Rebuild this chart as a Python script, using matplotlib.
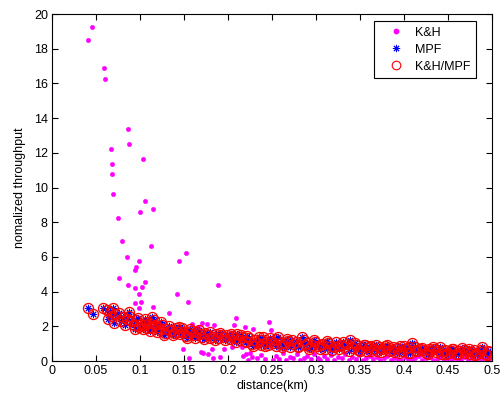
import matplotlib
matplotlib.use("Agg")
import matplotlib.pyplot as plt
from matplotlib.lines import Line2D

plt.rcParams['font.family'] = ['Liberation Sans', 'DejaVu Sans']

# K&H (magenta dots)
kh_x = [0.0413, 0.0458, 0.0587, 0.0599, 0.0864, 0.0875, 0.0667, 0.1038, 0.0678, 0.0678,
        0.0690, 0.1057, 0.1152, 0.1000, 0.0746, 0.0792, 0.1125, 0.1520, 0.0852, 0.1440,
        0.0989, 0.0955, 0.0943, 0.0761, 0.1060, 0.0864, 0.1023, 0.0943, 0.0989, 0.1417,
        0.1890, 0.1540, 0.1330, 0.1008, 0.1150, 0.0989, 0.0943, 0.2090, 0.2070, 0.2280,
        0.2470, 0.2490, 0.2190, 0.1590, 0.1700, 0.1760, 0.1840, 0.1660, 0.1200, 0.1400,
        0.149, 0.156, 0.169, 0.172, 0.177, 0.182, 0.183, 0.191, 0.196, 0.204,
        0.216, 0.217, 0.221, 0.223, 0.225, 0.227, 0.233, 0.238, 0.242, 0.251,
        0.255, 0.258, 0.262, 0.266, 0.270, 0.274, 0.278, 0.282, 0.286, 0.290,
        0.294, 0.298, 0.302, 0.305, 0.309, 0.313, 0.317, 0.321, 0.325, 0.329,
        0.333, 0.337, 0.341, 0.345, 0.349, 0.353, 0.357, 0.361, 0.365, 0.369,
        0.373, 0.377, 0.381, 0.385, 0.389, 0.393, 0.397, 0.401, 0.405, 0.409,
        0.413, 0.417, 0.421, 0.425, 0.429, 0.433, 0.437, 0.441, 0.445, 0.449,
        0.453, 0.457, 0.461, 0.465, 0.469, 0.473, 0.477, 0.481, 0.485, 0.489,
        0.493, 0.497]
kh_y = [18.52, 19.23, 16.89, 16.23, 13.37, 12.50, 12.20, 11.62, 11.34, 10.80,
        9.64, 9.22, 8.76, 8.59, 8.24, 6.90, 6.65, 6.24, 6.01, 5.78,
        5.78, 5.44, 5.26, 4.78, 4.55, 4.38, 4.27, 4.21, 3.84, 3.86,
        4.38, 3.38, 2.74, 3.38, 3.09, 3.04, 3.32, 2.46, 2.07, 1.86,
        2.27, 1.79, 1.98, 2.15, 2.21, 2.11, 2.05, 1.98, 1.90, 1.70,
        0.67, 0.17, 0.52, 0.44, 0.40, 0.67, 0.15, 0.25, 0.67, 0.79,
        0.79, 0.29, 0.40, 0.05, 0.44, 0.21, 0.15, 0.35, 0.10, 0.05,
        0.30, 0.12, 0.45, 0.08, 0.25, 0.15, 0.38, 0.05, 0.20, 0.30,
        0.10, 0.42, 0.18, 0.06, 0.28, 0.12, 0.35, 0.05, 0.22, 0.15,
        0.40, 0.08, 0.25, 0.12, 0.32, 0.05, 0.18, 0.28, 0.10, 0.22,
        0.05, 0.15, 0.30, 0.08, 0.20, 0.12, 0.04, 0.25, 0.10, 0.06,
        0.18, 0.30, 0.05, 0.15, 0.22, 0.08, 0.12, 0.26, 0.05, 0.18,
        0.10, 0.20, 0.06, 0.14, 0.25, 0.08, 0.16, 0.05, 0.20, 0.10,
        0.15, 0.06]

# MPF (blue asterisks) and K&H/MPF (red circles) share positions
mpf_x = [0.041, 0.047, 0.058, 0.062, 0.066, 0.069, 0.068, 0.072, 0.076, 0.078,
         0.081, 0.085, 0.088, 0.090, 0.093, 0.096, 0.099, 0.101, 0.104, 0.106,
         0.108, 0.110, 0.112, 0.114, 0.117, 0.120, 0.123, 0.125, 0.128, 0.131,
         0.134, 0.136, 0.139, 0.141, 0.144, 0.146, 0.149, 0.152, 0.155, 0.158,
         0.161, 0.164, 0.168, 0.171, 0.174, 0.177, 0.180, 0.183, 0.186, 0.189,
         0.192, 0.195, 0.199, 0.202, 0.205, 0.208, 0.210, 0.213, 0.216, 0.219,
         0.221, 0.224, 0.227, 0.230, 0.233, 0.236, 0.238, 0.240, 0.243, 0.246,
         0.249, 0.252, 0.255, 0.257, 0.260, 0.263, 0.265, 0.268, 0.271, 0.274,
         0.277, 0.280, 0.284, 0.287, 0.290, 0.293, 0.296, 0.299, 0.302, 0.304,
         0.307, 0.310, 0.314, 0.317, 0.320, 0.323, 0.326, 0.329, 0.332, 0.335,
         0.339, 0.342, 0.345, 0.348, 0.351, 0.354, 0.357, 0.360, 0.363, 0.366,
         0.369, 0.372, 0.375, 0.378, 0.380, 0.383, 0.386, 0.389, 0.392, 0.395,
         0.398, 0.401, 0.404, 0.406, 0.409, 0.412, 0.415, 0.418, 0.422, 0.425,
         0.428, 0.430, 0.433, 0.436, 0.439, 0.442, 0.445, 0.447, 0.450, 0.453,
         0.456, 0.459, 0.462, 0.466, 0.469, 0.472, 0.475, 0.477, 0.480, 0.483,
         0.486, 0.489, 0.492, 0.495, 0.498,
         0.064, 0.071, 0.083, 0.087, 0.094, 0.098, 0.103, 0.107, 0.111, 0.116,
         0.119, 0.124, 0.127, 0.133, 0.138, 0.143, 0.148, 0.153, 0.157, 0.163,
         0.167, 0.173, 0.179, 0.185, 0.191, 0.197, 0.203, 0.209, 0.215, 0.222,
         0.228, 0.235, 0.242, 0.248, 0.254, 0.261, 0.267, 0.273, 0.279, 0.286,
         0.292, 0.298, 0.305, 0.312, 0.318, 0.325, 0.331, 0.337, 0.344, 0.350,
         0.356, 0.362, 0.368, 0.374, 0.381, 0.387, 0.394, 0.400, 0.407, 0.413,
         0.420, 0.427, 0.434, 0.441, 0.448, 0.455, 0.461, 0.468, 0.474, 0.481,
         0.487, 0.494]
mpf_y = [3.07, 2.69, 3.04, 2.95, 2.85, 3.07, 2.59, 2.72, 2.74, 2.31,
         2.55, 2.45, 2.84, 2.30, 2.10, 2.36, 1.98, 2.15, 2.05, 2.40,
         1.92, 2.20, 1.88, 2.52, 2.07, 1.95, 1.80, 2.10, 1.63, 1.85,
         1.72, 1.79, 1.62, 1.90, 1.98, 1.55, 1.70, 1.45, 1.59, 1.75,
         1.50, 1.66, 1.56, 1.40, 1.62, 1.48, 1.35, 1.40, 1.55, 1.30,
         1.48, 1.38, 1.50, 1.25, 1.42, 1.33, 1.56, 1.20, 1.38, 1.15,
         1.11, 1.30, 0.98, 1.22, 1.05, 1.21, 0.95, 1.37, 1.10, 0.90,
         1.18, 1.02, 0.85, 1.37, 1.05, 0.92, 1.02, 1.15, 0.80, 0.98,
         1.10, 0.88, 1.37, 0.95, 1.05, 0.78, 0.90, 1.12, 0.85, 0.92,
         1.00, 0.72, 1.05, 0.88, 0.80, 1.08, 0.70, 0.92, 0.83, 0.98,
         1.21, 0.75, 0.90, 0.66, 0.82, 0.92, 0.60, 0.78, 0.86, 0.70,
         0.55, 0.80, 0.68, 0.88, 0.73, 0.58, 0.66, 0.52, 0.75, 0.86,
         0.60, 0.70, 0.48, 0.78, 1.02, 0.62, 0.55, 0.72, 0.63, 0.45,
         0.68, 0.56, 0.82, 0.50, 0.66, 0.42, 0.60, 0.63, 0.48, 0.55,
         0.70, 0.40, 0.58, 0.77, 0.45, 0.60, 0.38, 0.54, 0.66, 0.42,
         0.50, 0.82, 0.40, 0.58, 0.54,
         2.40, 2.20, 2.05, 2.60, 1.85, 2.50, 1.82, 2.25, 1.75, 2.35,
         1.70, 2.25, 1.50, 2.00, 1.48, 1.68, 1.88, 1.30, 1.85, 1.35,
         1.78, 1.25, 1.70, 1.22, 1.62, 1.20, 1.58, 1.08, 1.50, 1.42,
         0.88, 1.40, 0.85, 1.30, 1.25, 0.80, 1.28, 1.22, 0.78, 1.20,
         0.70, 1.22, 0.68, 1.15, 0.62, 0.88, 1.12, 0.60, 1.05, 0.58,
         0.95, 0.55, 0.92, 0.50, 0.90, 0.82, 0.45, 0.88, 0.45, 0.82,
         0.75, 0.40, 0.70, 0.78, 0.38, 0.72, 0.40, 0.65, 0.70, 0.35,
         0.62, 0.36]

x_ticks = [0, 0.05, 0.1, 0.15, 0.2, 0.25, 0.3, 0.35, 0.4, 0.45, 0.5]
x_ticklabels = ['0', '0.05', '0.1', '0.15', '0.2', '0.25', '0.3', '0.35', '0.4', '0.45', '0.5']
y_ticks = [0, 2, 4, 6, 8, 10, 12, 14, 16, 18, 20]

fig = plt.figure(figsize=(5.04, 3.99), dpi=100)
ax = fig.add_axes([0.1032, 0.0952, 0.873, 0.8697])

asterisk = (8, 2, 0)
ax.plot(kh_x, kh_y, linestyle='none', marker='o', markersize=3.2,
        markerfacecolor='#ff00ff', markeredgecolor='#ff00ff', markeredgewidth=0.3)
ax.plot(mpf_x, mpf_y, linestyle='none', marker=asterisk, markersize=5.2,
        markeredgecolor='#0000ff', markerfacecolor='#0000ff', markeredgewidth=0.7)
ax.plot(mpf_x, mpf_y, linestyle='none', marker='o', markersize=7.2,
        markerfacecolor='none', markeredgecolor='#ff0000', markeredgewidth=0.95)

ax.set_xlim(0, 0.5)
ax.set_ylim(0, 20)
ax.set_xticks(x_ticks)
ax.set_xticklabels(x_ticklabels)
ax.set_yticks(y_ticks)
ax.tick_params(direction='in', length=4, width=0.8, top=True, right=True,
               labelsize=9, pad=3)
for s in ax.spines.values():
    s.set_linewidth(0.8)
    s.set_color('black')

ax.set_xlabel('distance(km)', fontsize=9, labelpad=2)
ax.set_ylabel('nomalized throughput', fontsize=9, labelpad=6)

handles = [
    Line2D([], [], linestyle='none', marker='o', markersize=3.2,
           markerfacecolor='#ff00ff', markeredgecolor='#ff00ff'),
    Line2D([], [], linestyle='none', marker=asterisk, markersize=5.2,
           markeredgecolor='#0000ff', markeredgewidth=0.7),
    Line2D([], [], linestyle='none', marker='o', markersize=6.2,
           markerfacecolor='none', markeredgecolor='#ff0000', markeredgewidth=0.8),
]
leg = ax.legend(handles, ['K&H', 'MPF', 'K&H/MPF'], loc='upper right',
                bbox_to_anchor=(0.964, 0.980), borderaxespad=0, fancybox=False,
                edgecolor='black', framealpha=1, fontsize=9, handlelength=2.5,
                handletextpad=0.3, borderpad=0.45, labelspacing=0.4)
leg.get_frame().set_linewidth(0.8)

fig.savefig('out.png', dpi=100)
